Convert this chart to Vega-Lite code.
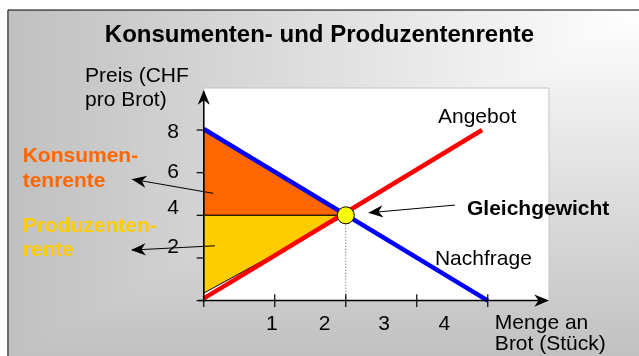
{
  "$schema": "https://vega.github.io/schema/vega-lite/v6.json",
  "width": 639,
  "height": 356,
  "autosize": {"type": "none"},
  "padding": 0,
  "background": "white",
  "config": {"view": {"stroke": null}, "text": {"font": "Liberation Sans"}},
  "datasets": {
    "bg": [{"x": -2.758, "x2": 6.2, "y": 13.63, "y2": -2.75}],
    "plot": [{"x": 0, "x2": 4.862, "y": 0, "y2": 9.97}],
    "orange": [{"x": 0, "y": 8, "y2": 4}, {"x": 2, "y": 4, "y2": 4}],
    "yellow": [{"x": 0, "y": 4, "y2": 0.35}, {"x": 2, "y": 4, "y2": 4}],
    "dotted": [{"x": 2, "y": 3.7, "y2": 0}],
    "supply": [{"x": 0, "y": 0.1}, {"x": 3.92, "y": 8.0}],
    "demand": [{"x": 0, "y": 8.05}, {"x": 4, "y": 0}],
    "axes": [
      {"x": 0, "x2": 0, "y": -0.05, "y2": 9.8},
      {"x": -0.07, "x2": 4.8, "y": 0, "y2": 0}
    ],
    "ticks": [
      {"x": -0.1, "x2": 0, "y": 0, "y2": 0},
      {"x": -0.1, "x2": 0, "y": 2, "y2": 2},
      {"x": -0.1, "x2": 0, "y": 4, "y2": 4},
      {"x": -0.1, "x2": 0, "y": 6, "y2": 6},
      {"x": -0.1, "x2": 0, "y": 8, "y2": 8},
      {"x": 0, "x2": 0, "y": -0.3, "y2": 0},
      {"x": 1, "x2": 1, "y": -0.3, "y2": 0.3},
      {"x": 2, "x2": 2, "y": -0.3, "y2": 0.3},
      {"x": 3, "x2": 3, "y": -0.3, "y2": 0.3},
      {"x": 4, "x2": 4, "y": -0.3, "y2": 0.3}
    ],
    "arrows": [
      {"id": "k", "x": 0.134, "y": 5.03},
      {"id": "k", "x": -1.0, "y": 5.69},
      {"id": "p", "x": 0.158, "y": 2.57},
      {"id": "p", "x": -1.01, "y": 2.37},
      {"id": "g", "x": 3.538, "y": 4.48},
      {"id": "g", "x": 2.33, "y": 4.12}
    ],
    "heads": [
      {"id": "k", "x": -1.015, "y": 5.69},
      {"id": "p", "x": -1.025, "y": 2.37},
      {"id": "g", "x": 2.317, "y": 4.12},
      {"id": "ya", "x": 0, "y": 9.88},
      {"id": "xa", "x": 4.862, "y": 0}
    ],
    "eq": [{"x": 2, "y": 4}],
    "title": [{"x": 1.63, "y": 12.14, "text": "Konsumenten- und Produzentenrente"}],
    "labels": [
      {"x": -1.673, "y": 10.25, "text": "Preis (CHF"},
      {"x": -1.673, "y": 9.13, "text": "pro Brot)"},
      {"x": 3.299, "y": 8.34, "text": "Angebot"},
      {"x": 3.256, "y": 1.67, "text": "Nachfrage"},
      {"x": 4.1, "y": -1.33, "text": "Menge an"},
      {"x": 4.1, "y": -2.32, "text": "Brot (Stück)"}
    ],
    "bold": [{"x": 3.707, "y": 4.01, "text": "Gleichgewicht"}],
    "orangeText": [
      {"x": -2.551, "y": 6.5, "text": "Konsumen-"},
      {"x": -2.551, "y": 5.34, "text": "tenrente"}
    ],
    "yellowText": [
      {"x": -2.551, "y": 3.23, "text": "Produzenten-"},
      {"x": -2.551, "y": 2.09, "text": "rente"}
    ],
    "yticks": [
      {"x": -0.349, "y": 7.61, "text": "8"},
      {"x": -0.349, "y": 5.74, "text": "6"},
      {"x": -0.349, "y": 4.06, "text": "4"},
      {"x": -0.349, "y": 2.22, "text": "2"}
    ],
    "xticks": [
      {"x": 0.96, "y": -1.38, "text": "1"},
      {"x": 1.7, "y": -1.38, "text": "2"},
      {"x": 2.54, "y": -1.38, "text": "3"},
      {"x": 3.39, "y": -1.38, "text": "4"}
    ]
  },
  "encoding": {
    "x": {"field": "x", "type": "quantitative", "scale": {"domain": [-2.87, 6.13], "nice": false, "zero": false}, "axis": null},
    "y": {"field": "y", "type": "quantitative", "scale": {"domain": [-2.6, 14.1], "nice": false, "zero": false}, "axis": null}
  },
  "layer": [
    {
      "data": {"name": "bg"},
      "mark": {"type": "rect", "fill": {"gradient": "linear", "x1": 0, "y1": 0, "x2": 1, "y2": 0, "stops": [{"offset": 0, "color": "#c0c0c0"}, {"offset": 1, "color": "#ffffff"}]}, "stroke": "black", "strokeWidth": 1},
      "encoding": {"x2": {"field": "x2"}, "y2": {"field": "y2"}}
    },
    {
      "data": {"name": "bg"},
      "mark": {"type": "rect", "blend": "darken", "fill": {"gradient": "linear", "x1": 0, "y1": 0, "x2": 0, "y2": 1, "stops": [{"offset": 0, "color": "#ffffff"}, {"offset": 1, "color": "#c0c0c0"}]}, "strokeWidth": 0},
      "encoding": {"x2": {"field": "x2"}, "y2": {"field": "y2"}}
    },
    {
      "data": {"name": "plot"},
      "mark": {"type": "rect", "fill": "white", "stroke": "#c4c4c4", "strokeWidth": 1},
      "encoding": {"x2": {"field": "x2"}, "y2": {"field": "y2"}}
    },
    {
      "data": {"name": "orange"},
      "mark": {"type": "area", "orient": "vertical", "fill": "#FF6600", "stroke": "black", "strokeWidth": 1, "opacity": 1},
      "encoding": {"y2": {"field": "y2"}}
    },
    {
      "data": {"name": "yellow"},
      "mark": {"type": "area", "orient": "vertical", "fill": "#FFCC00", "stroke": "black", "strokeWidth": 1, "opacity": 1},
      "encoding": {"y2": {"field": "y2"}}
    },
    {
      "data": {"name": "dotted"},
      "mark": {"type": "rule", "color": "#555555", "strokeWidth": 1, "strokeDash": [1, 2]},
      "encoding": {"y2": {"field": "y2"}}
    },
    {
      "data": {"name": "supply"},
      "mark": {"type": "line", "color": "#FF0000", "strokeWidth": 4.5, "strokeCap": "butt"},
      "encoding": {}
    },
    {
      "data": {"name": "demand"},
      "mark": {"type": "line", "color": "#0000FF", "strokeWidth": 4.5, "strokeCap": "butt"},
      "encoding": {}
    },
    {
      "data": {"name": "axes"},
      "mark": {"type": "rule", "color": "black", "strokeWidth": 1.5},
      "encoding": {"x2": {"field": "x2"}, "y2": {"field": "y2"}}
    },
    {
      "data": {"name": "ticks"},
      "mark": {"type": "rule", "color": "black", "strokeWidth": 1.2},
      "encoding": {"x2": {"field": "x2"}, "y2": {"field": "y2"}}
    },
    {
      "data": {"name": "arrows"},
      "mark": {"type": "line", "color": "black", "strokeWidth": 1},
      "encoding": {"detail": {"field": "id"}}
    },
    {
      "data": {"name": "heads"},
      "transform": [{"filter": "datum.id === 'k'"}],
      "mark": {"type": "point", "shape": "M0,0L0.7,1.7L0,1.2L-0.7,1.7Z", "filled": true, "color": "black", "opacity": 1, "size": 300, "angle": 279.8}
    },
    {
      "data": {"name": "heads"},
      "transform": [{"filter": "datum.id === 'p'"}],
      "mark": {"type": "point", "shape": "M0,0L0.7,1.7L0,1.2L-0.7,1.7Z", "filled": true, "color": "black", "opacity": 1, "size": 300, "angle": 267.2}
    },
    {
      "data": {"name": "heads"},
      "transform": [{"filter": "datum.id === 'g'"}],
      "mark": {"type": "point", "shape": "M0,0L0.7,1.7L0,1.2L-0.7,1.7Z", "filled": true, "color": "black", "opacity": 1, "size": 300, "angle": 264.7}
    },
    {
      "data": {"name": "heads"},
      "transform": [{"filter": "datum.id === 'ya'"}],
      "mark": {"type": "point", "shape": "M0,0L0.7,1.7L0,1.2L-0.7,1.7Z", "filled": true, "color": "black", "opacity": 1, "size": 300, "angle": 0}
    },
    {
      "data": {"name": "heads"},
      "transform": [{"filter": "datum.id === 'xa'"}],
      "mark": {"type": "point", "shape": "M0,0L0.7,1.7L0,1.2L-0.7,1.7Z", "filled": true, "color": "black", "opacity": 1, "size": 300, "angle": 90}
    },
    {
      "data": {"name": "eq"},
      "mark": {"type": "point", "shape": "circle", "filled": true, "fill": "#FFFF00", "stroke": "black", "strokeWidth": 1, "opacity": 1, "size": 289}
    },
    {
      "data": {"name": "title"},
      "mark": {"type": "text", "fontSize": 24, "fontWeight": "bold", "align": "center", "baseline": "alphabetic", "color": "black"},
      "encoding": {"text": {"field": "text"}}
    },
    {
      "data": {"name": "labels"},
      "mark": {"type": "text", "fontSize": 21, "align": "left", "baseline": "alphabetic", "color": "black"},
      "encoding": {"text": {"field": "text"}}
    },
    {
      "data": {"name": "bold"},
      "mark": {"type": "text", "fontSize": 21, "fontWeight": "bold", "align": "left", "baseline": "alphabetic", "color": "black"},
      "encoding": {"text": {"field": "text"}}
    },
    {
      "data": {"name": "orangeText"},
      "mark": {"type": "text", "fontSize": 21, "fontWeight": "bold", "align": "left", "baseline": "alphabetic", "color": "#FF6600"},
      "encoding": {"text": {"field": "text"}}
    },
    {
      "data": {"name": "yellowText"},
      "mark": {"type": "text", "fontSize": 21, "fontWeight": "bold", "align": "left", "baseline": "alphabetic", "color": "#FFCC00"},
      "encoding": {"text": {"field": "text"}}
    },
    {
      "data": {"name": "yticks"},
      "mark": {"type": "text", "fontSize": 21, "align": "right", "baseline": "alphabetic", "color": "black"},
      "encoding": {"text": {"field": "text"}}
    },
    {
      "data": {"name": "xticks"},
      "mark": {"type": "text", "fontSize": 21, "align": "center", "baseline": "alphabetic", "color": "black"},
      "encoding": {"text": {"field": "text"}}
    }
  ]
}
